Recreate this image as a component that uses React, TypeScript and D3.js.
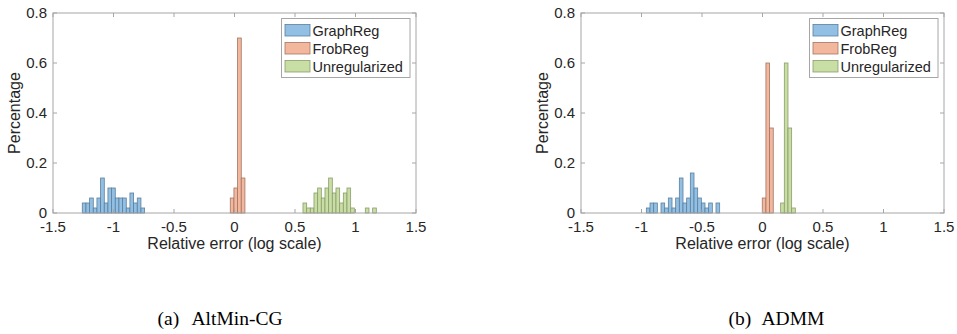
import React from "react";
import * as d3 from "d3";

// ---- data ----
const seriesNames = ["GraphReg", "FrobReg", "Unregularized"];
const binWidth = 0.0303;

// Panel (a) AltMin-CG
const aGraphStart = -1.258;
const aGraphVals = [0.04, 0.04, 0.06, 0.02, 0.06, 0.14, 0.04, 0.1, 0.1, 0.06, 0.06, 0.06, 0.02, 0.08, 0.04, 0.06, 0.02];
const aFrobStart = -0.035;
const aFrobVals = [0.06, 0.1, 0.7, 0.14];
const aUnregStart = 0.566;
const aUnregVals = [0.04, 0.02, 0.02, 0.08, 0.1, 0.06, 0.1, 0.14, 0.08, 0.1, 0.04, 0.08, 0.1, 0.02, 0, 0, 0, 0.02, 0, 0.02];

// Panel (b) ADMM
const bGraphStart = -0.96;
const bGraphVals = [0.02, 0.04, 0.04, 0, 0.04, 0.02, 0.06, 0.02, 0.06, 0.14, 0.04, 0.06, 0.16, 0.1, 0.06, 0.04, 0.02, 0.04, 0, 0.04];
const bFrobStart = -0.002;
const bFrobVals = [0.06, 0.6, 0.34];
const bUnregStart = 0.15;
const bUnregVals = [0.04, 0.6, 0.34, 0.02];

const xTicks = [-1.5, -1, -0.5, 0, 0.5, 1, 1.5];
const yTicks = [0, 0.2, 0.4, 0.6, 0.8];
const captionTags = ["(a)", "(b)"];
const captionNames = ["AltMin-CG", "ADMM"];

// ---- style ----
const fills = ["#92c0e4", "#f3b79d", "#c8dea4"];
const edges = ["#5b7f9c", "#a27564", "#8a9c6c"];
const axisColor = "#a6a6a6";
const textColor = "#262626";
const sans = "'Liberation Sans', Arial, Helvetica, sans-serif";
const serif = "'Liberation Serif', 'Times New Roman', serif";

const plotTop = 13;
const plotBottom = 213;

type Hist = { start: number; vals: number[] };

function Panel({ left, right, hists, idx }: { left: number; right: number; hists: Hist[]; idx: number }) {
  const x = d3.scaleLinear().domain([-1.5, 1.5]).range([left, right]);
  const y = d3.scaleLinear().domain([0, 0.8]).range([plotBottom, plotTop]);
  const tick = 4;
  const legX = right - 134.5;
  const legY = 18.5;
  return (
    <g>
      {hists.map((h, si) =>
        h.vals.map((v, i) => {
          if (v <= 0) return null;
          const x0 = x(h.start + i * binWidth);
          const x1 = x(h.start + (i + 1) * binWidth);
          return (
            <rect
              key={si + "-" + i}
              x={x0}
              y={y(v)}
              width={x1 - x0}
              height={y(0) - y(v)}
              fill={fills[si]}
              stroke={edges[si]}
              strokeWidth={0.8}
            />
          );
        })
      )}
      {/* box */}
      <rect x={left} y={plotTop} width={right - left} height={plotBottom - plotTop} fill="none" stroke={axisColor} strokeWidth={1} />
      {xTicks.map((t) => (
        <g key={"xt" + t}>
          <line x1={x(t)} x2={x(t)} y1={plotBottom} y2={plotBottom - tick} stroke={axisColor} />
          <line x1={x(t)} x2={x(t)} y1={plotTop} y2={plotTop + tick} stroke={axisColor} />
          <text x={x(t)} y={232} textAnchor="middle" fontSize={15} fontFamily={sans} fill={textColor}>
            {String(t)}
          </text>
        </g>
      ))}
      {yTicks.map((t) => (
        <g key={"yt" + t}>
          <line x1={left} x2={left + tick} y1={y(t)} y2={y(t)} stroke={axisColor} />
          <line x1={right} x2={right - tick} y1={y(t)} y2={y(t)} stroke={axisColor} />
          <text x={left - 6} y={y(t)} dy="0.36em" textAnchor="end" fontSize={15} fontFamily={sans} fill={textColor}>
            {String(t)}
          </text>
        </g>
      ))}
      <text x={(left + right) / 2} y={249} textAnchor="middle" fontSize={16} fontFamily={sans} fill={textColor}>
        Relative error (log scale)
      </text>
      <text
        transform={`translate(${left - 33.5},${(plotTop + plotBottom) / 2}) rotate(-90)`}
        textAnchor="middle"
        fontSize={16}
        fontFamily={sans}
        fill={textColor}
      >
        Percentage
      </text>
      {/* legend */}
      <rect x={legX} y={legY} width={128.5} height={59} fill="white" stroke={axisColor} strokeWidth={1} />
      {seriesNames.map((n, i) => (
        <g key={n}>
          <rect x={legX + 3.5} y={legY + 6 + i * 18} width={25} height={11.5} fill={fills[i]} stroke={edges[i]} strokeWidth={0.8} />
          <text x={legX + 31} y={legY + 11.8 + i * 18} dy="0.36em" fontSize={14.5} fontFamily={sans} fill={textColor}>
            {n}
          </text>
        </g>
      ))}
      {/* caption */}
      <text x={(left + right) / 2 - 77 + (idx === 1 ? 43 : 0)} y={325} fontSize={19.5} fontFamily={serif} fill="#000">
        {captionTags[idx]}
      </text>
      <text x={(left + right) / 2 - 43 + (idx === 1 ? 42 : 0)} y={325} fontSize={19.5} fontFamily={serif} fill="#000">
        {captionNames[idx]}
      </text>
    </g>
  );
}

export default function App() {
  return (
    <svg width={957} height={334} style={{ position: "absolute", left: 0, top: 0, background: "white" }}>
      <rect width={957} height={334} fill="white" />
      <Panel
        left={53}
        right={416}
        idx={0}
        hists={[
          { start: aGraphStart, vals: aGraphVals },
          { start: aFrobStart, vals: aFrobVals },
          { start: aUnregStart, vals: aUnregVals },
        ]}
      />
      <Panel
        left={581}
        right={944}
        idx={1}
        hists={[
          { start: bGraphStart, vals: bGraphVals },
          { start: bFrobStart, vals: bFrobVals },
          { start: bUnregStart, vals: bUnregVals },
        ]}
      />
    </svg>
  );
}
